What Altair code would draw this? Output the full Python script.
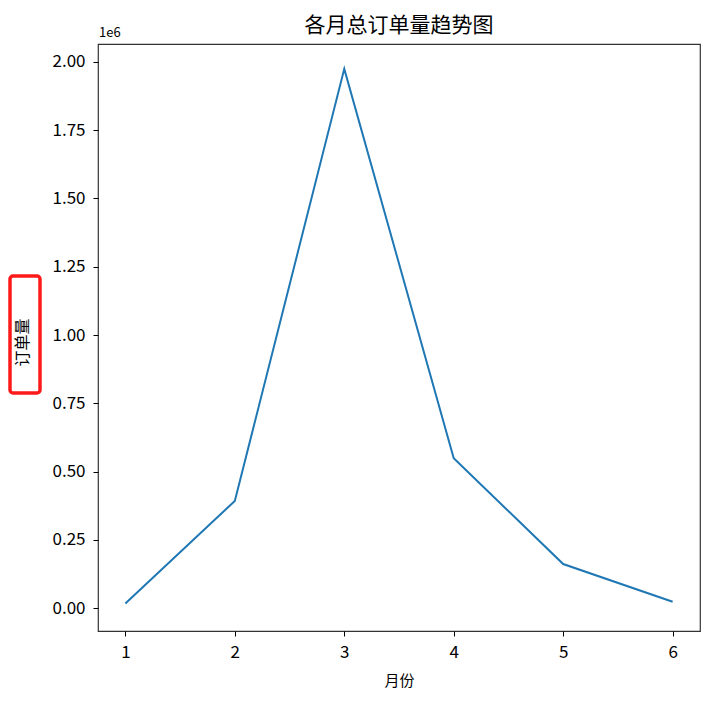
import altair as alt
import pandas as pd

months = [1, 2, 3, 4, 5, 6]
orders = [18000, 393000, 1974000, 549000, 162000, 24000]

y_ticks = [0, 250000, 500000, 750000, 1000000, 1250000, 1500000, 1750000, 2000000]

FONT = "Noto Sans CJK SC"

df = pd.DataFrame({"月份": months, "订单量": orders})

line = alt.Chart(df).mark_line(color="#1f77b4", strokeWidth=2).encode(
    x=alt.X("月份:Q",
            scale=alt.Scale(domain=[0.75, 6.25], nice=False, zero=False),
            axis=alt.Axis(values=months, format="d", grid=False, domain=False,
                          tickColor="black", tickSize=5, labelFontSize=17,
                          labelColor="black", labelPadding=8, labelFont=FONT,
                          title="月份", titleFont=FONT, titleFontSize=15,
                          titleFontWeight="normal", titleColor="black",
                          titlePadding=13)),
    y=alt.Y("订单量:Q",
            scale=alt.Scale(domain=[-83000, 2065000], nice=False, zero=False),
            axis=alt.Axis(values=y_ticks, labelExpr="format(datum.value/1e6, '.2f')",
                          grid=False, domain=False, tickColor="black", tickSize=5,
                          labelFontSize=17, labelColor="black", labelPadding=8,
                          labelFont=FONT,
                          title="订单量", titleFont=FONT, titleFontSize=16,
                          titleFontWeight="normal", titleColor="black",
                          titleX=-76, titleY=298, titleAlign="center",
                          titleBaseline="middle", titleAngle=-90)),
)

offset_df = pd.DataFrame({"t": ["1e6"]})
offset_text = alt.Chart(offset_df).mark_text(
    align="left", baseline="bottom", fontSize=13, font=FONT, color="black"
).encode(text="t:N", x=alt.value(1), y=alt.value(-4))

box_df = pd.DataFrame({"k": ["box"]})
red_box = alt.Chart(box_df).mark_rect(
    filled=False, stroke="#ff1a1a", strokeWidth=3.5, cornerRadius=3
).encode(x=alt.value(-88), x2=alt.value(-58), y=alt.value(232), y2=alt.value(349))

chart = alt.layer(line, offset_text, red_box).properties(
    width=602, height=587,
    padding={"left": 90, "top": 36, "right": 2, "bottom": 68},
    autosize=alt.AutoSizeParams(type="none"),
    title=alt.TitleParams("各月总订单量趋势图", font=FONT, fontSize=21,
                          fontWeight="normal", color="black", offset=10,
                          frame="group", dy=19),
).configure(background="white").configure_view(stroke="#333333", strokeWidth=1.2)

chart.save("out.html", embed_options={"renderer": "svg", "actions": False})
